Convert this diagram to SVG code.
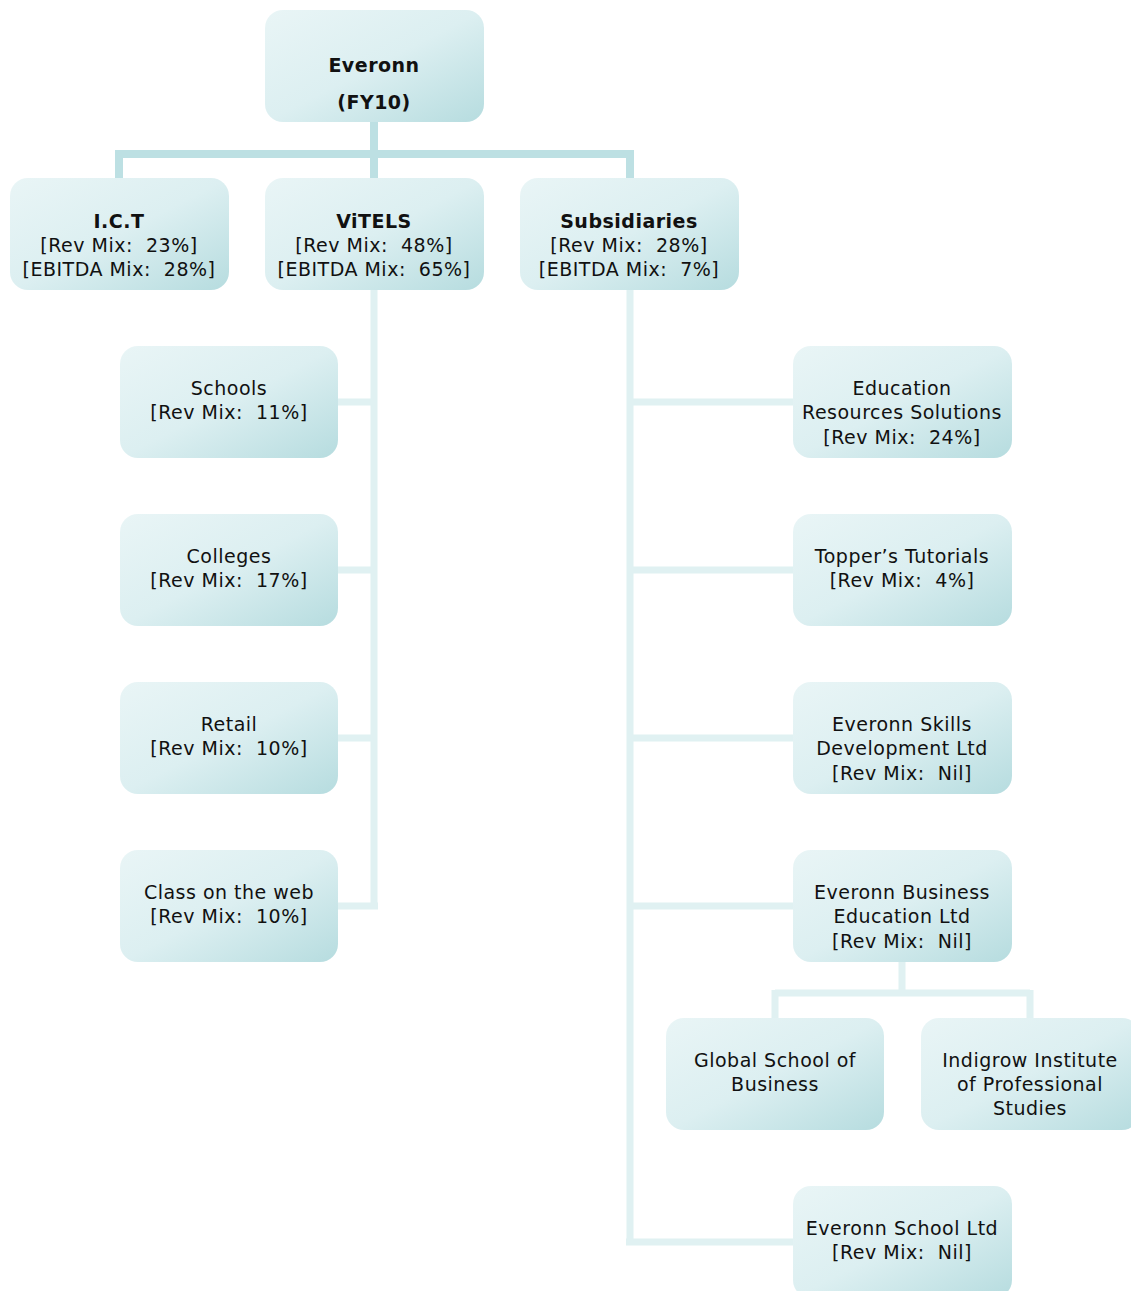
<svg xmlns="http://www.w3.org/2000/svg" width="1131" height="1291" viewBox="0 0 1131 1291">
<defs>
<linearGradient id="g" x1="0" y1="0" x2="1" y2="1">
<stop offset="0" stop-color="#e9f5f6"/>
<stop offset="0.5" stop-color="#dcefF1"/>
<stop offset="1" stop-color="#b6dcdf"/>
</linearGradient>
</defs>
<style>
.box{fill:url(#g)}
text{font-family:"DejaVu Sans","Liberation Sans",sans-serif;font-size:19px;letter-spacing:0.5px;fill:#111;text-anchor:middle;white-space:pre}
.b{font-weight:bold}
.c1{stroke:#bde0e3;stroke-width:8;fill:none}
.c2{stroke:#e0f1f2;stroke-width:7;fill:none}
</style>
<rect width="1131" height="1291" fill="#fff"/>
<g id="connectors">
<path class="c1" d="M374 122V154M119 154H630M119 150V178M374 154V178M630 150V178"/>
<path class="c2" d="M374 290V906M338 402H374M338 570H374M338 738H374M338 906H378"/>
<path class="c2" d="M630 290V1242M630 402H793M630 570H793M630 738H793M630 906H793M626 1242H793"/>
<path class="c2" d="M902 962V993M775 993H1030M775 990V1018M1030 990V1018"/>
</g>
<g id="everonn"><rect class="box" x="265" y="10" width="219" height="112" rx="18"/><text class="b" x="374" y="72">Everonn</text><text class="b" x="374" y="109">(FY10)</text></g>
<g id="ict"><rect class="box" x="10" y="178" width="219" height="112" rx="18"/><text x="119" y="228" class="b">I.C.T</text><text x="119" y="252">[Rev Mix:  23%]</text><text x="119" y="276">[EBITDA Mix:  28%]</text></g>
<g id="vitels"><rect class="box" x="265" y="178" width="219" height="112" rx="18"/><text x="374" y="228" class="b">ViTELS</text><text x="374" y="252">[Rev Mix:  48%]</text><text x="374" y="276">[EBITDA Mix:  65%]</text></g>
<g id="subsidiaries"><rect class="box" x="520" y="178" width="219" height="112" rx="18"/><text x="629" y="228" class="b">Subsidiaries</text><text x="629" y="252">[Rev Mix:  28%]</text><text x="629" y="276">[EBITDA Mix:  7%]</text></g>
<g id="schools"><rect class="box" x="120" y="346" width="218" height="112" rx="18"/><text x="229" y="395">Schools</text><text x="229" y="419">[Rev Mix:  11%]</text></g>
<g id="colleges"><rect class="box" x="120" y="514" width="218" height="112" rx="18"/><text x="229" y="563">Colleges</text><text x="229" y="587">[Rev Mix:  17%]</text></g>
<g id="retail"><rect class="box" x="120" y="682" width="218" height="112" rx="18"/><text x="229" y="731">Retail</text><text x="229" y="755">[Rev Mix:  10%]</text></g>
<g id="classweb"><rect class="box" x="120" y="850" width="218" height="112" rx="18"/><text x="229" y="899">Class on the web</text><text x="229" y="923">[Rev Mix:  10%]</text></g>
<g id="ers"><rect class="box" x="793" y="346" width="219" height="112" rx="18"/><text x="902" y="395">Education</text><text x="902" y="419">Resources Solutions</text><text x="902" y="444">[Rev Mix:  24%]</text></g>
<g id="toppers"><rect class="box" x="793" y="514" width="219" height="112" rx="18"/><text x="902" y="563">Topper’s Tutorials</text><text x="902" y="587">[Rev Mix:  4%]</text></g>
<g id="skills"><rect class="box" x="793" y="682" width="219" height="112" rx="18"/><text x="902" y="731">Everonn Skills</text><text x="902" y="755">Development Ltd</text><text x="902" y="780">[Rev Mix:  Nil]</text></g>
<g id="business"><rect class="box" x="793" y="850" width="219" height="112" rx="18"/><text x="902" y="899">Everonn Business</text><text x="902" y="923">Education Ltd</text><text x="902" y="948">[Rev Mix:  Nil]</text></g>
<g id="global"><rect class="box" x="666" y="1018" width="218" height="112" rx="18"/><text x="775" y="1067">Global School of</text><text x="775" y="1091">Business</text></g>
<g id="indigrow"><rect class="box" x="921" y="1018" width="219" height="112" rx="18"/><text x="1030" y="1067">Indigrow Institute</text><text x="1030" y="1091">of Professional</text><text x="1030" y="1115">Studies</text></g>
<g id="school"><rect class="box" x="793" y="1186" width="219" height="112" rx="18"/><text x="902" y="1235">Everonn School Ltd</text><text x="902" y="1259">[Rev Mix:  Nil]</text></g>
</svg>
